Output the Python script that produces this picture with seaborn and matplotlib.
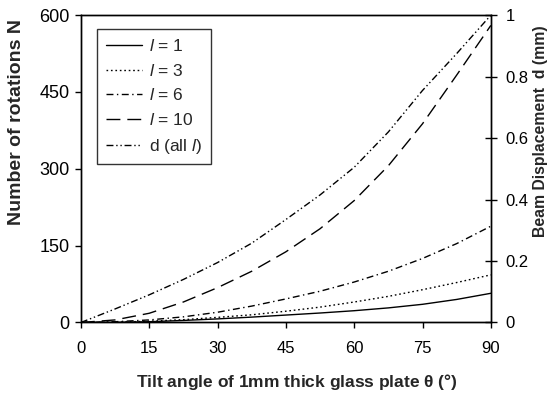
import matplotlib
matplotlib.use("Agg")
import matplotlib.pyplot as plt
import seaborn as sns
import pandas as pd

# ---- data ----
angle = [0, 7.5, 15, 22.5, 30, 37.5, 45, 52.5, 60, 67.5, 75, 82.5, 90]
n_l1 = [0, 0.3, 1.5, 4, 7, 10.5, 14.5, 18.5, 23, 28.5, 35.5, 45, 57]
n_l3 = [0, 0.5, 2.5, 5.5, 10, 15, 22, 30, 40, 51, 64, 78, 93]
n_l6 = [0, 1.5, 5, 11, 20, 32, 46, 61, 79, 100, 125, 154, 188]
n_l10 = [0, 5, 18, 40, 68, 100, 138, 183, 238, 306, 388, 483, 580]
d_mm = [0, 0.044, 0.09, 0.14, 0.195, 0.258, 0.335, 0.415, 0.505, 0.62, 0.755, 0.875, 1.0]

labels = ["$\\mathit{l}$ = 1", "$\\mathit{l}$ = 3", "$\\mathit{l}$ = 6", "$\\mathit{l}$ = 10"]
d_label = "d (all $\\mathit{l}$)"
xticks = [0, 15, 30, 45, 60, 75, 90]
yticks_left = [0, 150, 300, 450, 600]
yticks_right = [0, 0.2, 0.4, 0.6, 0.8, 1]
yticklabels_right = ["0", "0.2", "0.4", "0.6", "0.8", "1"]

sns.set_theme(style="white")
plt.rcParams["font.family"] = ["Liberation Sans", "DejaVu Sans"]
plt.rcParams["mathtext.fontset"] = "custom"
plt.rcParams["mathtext.rm"] = "Liberation Sans"
plt.rcParams["mathtext.it"] = "Liberation Sans:italic"
plt.rcParams["mathtext.bf"] = "Liberation Sans:bold"

fig = plt.figure(figsize=(5.54, 3.94), dpi=100)
ax = fig.add_axes([0.146, 0.1815, 0.740, 0.780])
ax2 = ax.twinx()

styles = ["-", (0, (1.2, 2)), (0, (5, 2.5, 1, 2.5)), (0, (10, 5))]
series = [n_l1, n_l3, n_l6, n_l10]
handles = []
for vals, lab, ls in zip(series, labels, styles):
    df = pd.DataFrame({"angle": angle, "N": vals})
    sns.lineplot(data=df, x="angle", y="N", ax=ax, color="black", lw=1.0,
                 linestyle=ls, label=lab, legend=False)
    handles.append(ax.get_lines()[-1])

dfd = pd.DataFrame({"angle": angle, "d": d_mm})
sns.lineplot(data=dfd, x="angle", y="d", ax=ax2, color="black", lw=1.0,
             linestyle=(0, (5, 2, 1, 2, 1, 2)), label=d_label, legend=False)
handles.append(ax2.get_lines()[-1])

ax.set_xlim(0, 90)
ax.set_ylim(0, 600)
ax2.set_ylim(0, 1)
ax.set_xticks(xticks)
ax.set_yticks(yticks_left)
ax2.set_yticks(yticks_right)
ax2.set_yticklabels(yticklabels_right)

for a in (ax, ax2):
    for s in a.spines.values():
        s.set_color("black")
        s.set_linewidth(1.0)
ax.tick_params(axis="x", direction="out", length=4, width=1, colors="black",
               labelsize=12, pad=9, bottom=True)
ax.tick_params(axis="y", direction="out", length=4, width=1, colors="black",
               labelsize=13, pad=4, left=True)
ax2.tick_params(axis="y", direction="inout", length=9, width=1, colors="black",
                labelsize=12, pad=6, right=True)

ax.set_xlabel("Tilt angle of 1mm thick glass plate $\\mathregular{\\theta}$ (°)",
              fontsize=12.5, fontweight="bold")
ax.xaxis.set_label_coords(0.527, -0.16)
ax.set_ylabel("Number of rotations N", fontsize=14, fontweight="bold")
ax.yaxis.set_label_coords(-0.137, 0.652)
ax2.set_ylabel("Beam Displacement  d (mm)", fontsize=11.3, fontweight="bold")
ax2.yaxis.set_label_coords(1.104, 0.623)

leg = ax.legend(handles=handles, labels=labels + [d_label], loc="upper left",
                bbox_to_anchor=(0.039, 0.954), fontsize=12.5, frameon=True,
                fancybox=False, shadow=False, handlelength=2.1, handletextpad=0.4,
                labelspacing=0.5, borderpad=0.5, borderaxespad=0)
leg.get_frame().set_edgecolor("black")
leg.get_frame().set_linewidth(1.0)

fig.savefig("out.png", dpi=100)
